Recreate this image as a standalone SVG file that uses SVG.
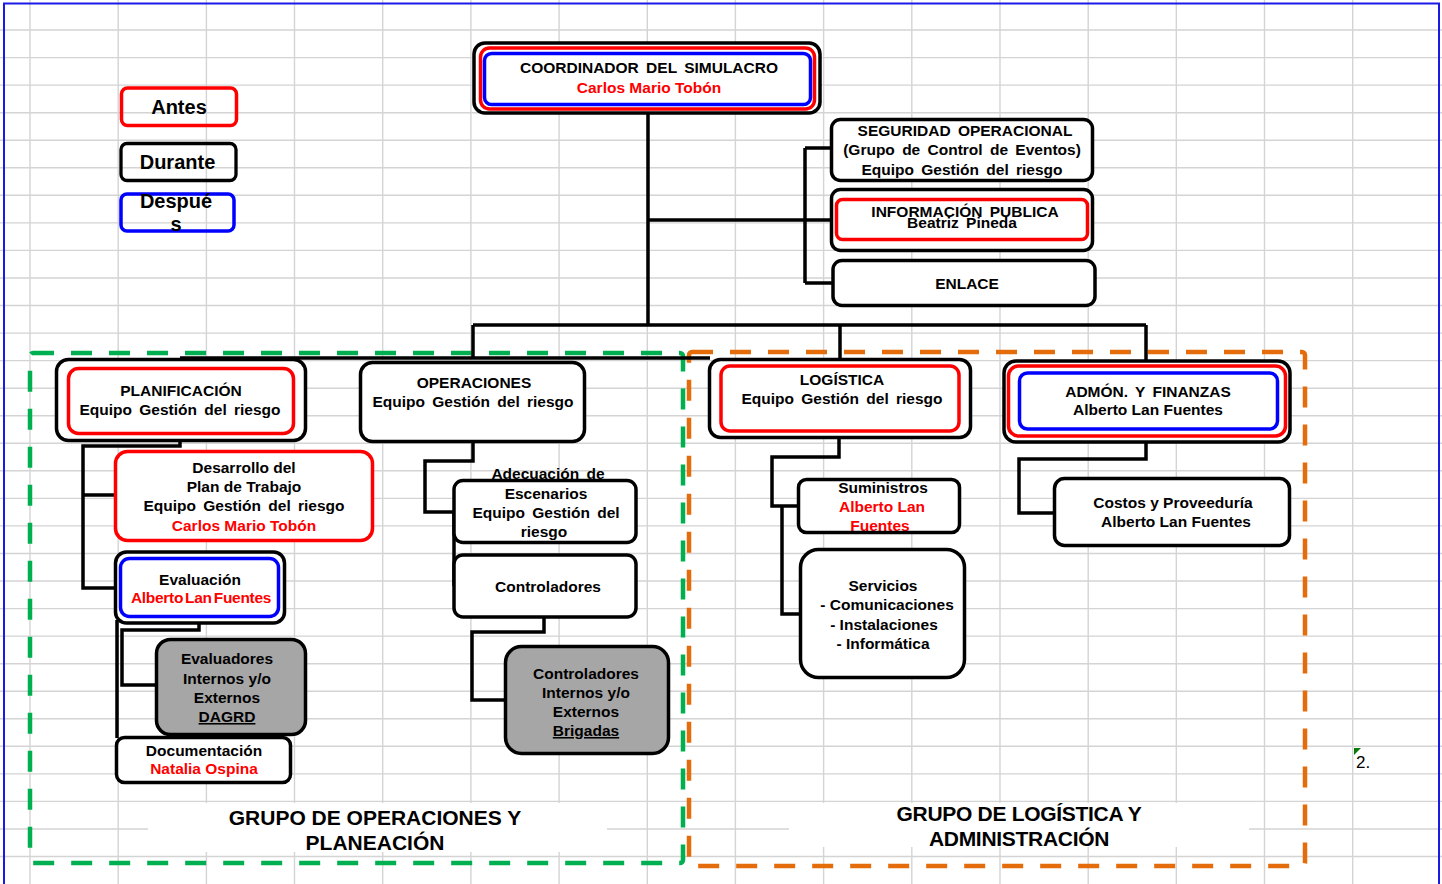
<svg xmlns="http://www.w3.org/2000/svg" width="1442" height="884" viewBox="0 0 1442 884">
<defs>
<style>
.grid{stroke:#d4d4d4;stroke-width:1.4}
.box{fill:#fff;stroke:#000;stroke-width:3.5}
.rd{fill:none;stroke:#ff0000;stroke-width:3.5}
.bl{fill:none;stroke:#0000ff;stroke-width:3.5}
.gr{fill:#a6a6a6;stroke:#000;stroke-width:3.5}
.conn{fill:none;stroke:#000;stroke-width:3.5;stroke-linejoin:miter}
.t{font-family:"Liberation Sans",Arial,sans-serif;font-weight:bold;font-size:15.5px;text-anchor:middle;fill:#000}
.ws{word-spacing:3px}
.r{fill:#ff0000}
.lg{font-size:20px}
.big{font-size:21px}
.u{text-decoration:underline}
</style>
</defs>
<rect width="1442" height="884" fill="#fff"/>
<g id="grid">
<path class="grid" d="M30 0V884M118.2 0V884M206.4 0V884M294.5 0V884M382.7 0V884M470.9 0V884M559.1 0V884M647.3 0V884M735.4 0V884M823.6 0V884M911.8 0V884M1000 0V884M1088.2 0V884M1176.3 0V884M1264.5 0V884M1352.7 0V884"/>
<path class="grid" d="M0 30H1442M0 57.6H1442M0 85.1H1442M0 112.7H1442M0 140.2H1442M0 167.8H1442M0 195.3H1442M0 222.9H1442M0 250.4H1442M0 278H1442M0 305.5H1442M0 333.1H1442M0 360.6H1442M0 388.2H1442M0 415.7H1442M0 443.3H1442M0 470.8H1442M0 498.4H1442M0 525.9H1442M0 553.5H1442M0 581H1442M0 608.6H1442M0 636.1H1442M0 663.7H1442M0 691.2H1442M0 718.8H1442M0 746.3H1442M0 773.9H1442M0 801.4H1442M0 829H1442M0 856.5H1442"/>
</g>
<path d="M4 884V3.5H1439V884" fill="none" stroke="#1a1ae6" stroke-width="2"/>
<g id="group-frames">
<rect x="148" y="803" width="459" height="49" fill="#fff"/>
<rect x="789" y="803" width="460" height="44" fill="#fff"/>
<rect id="grupo-operaciones-frame" x="30" y="353" width="653" height="510" rx="3" fill="none" stroke="#00b050" stroke-width="4.5" stroke-dasharray="21 17"/>
<rect id="grupo-logistica-frame" x="689" y="352" width="616" height="514" rx="3" fill="none" stroke="#e46c0a" stroke-width="4.5" stroke-dasharray="21 17"/>
</g>
<g id="legend">
<g id="legend-antes"><rect x="121.5" y="88" width="115" height="37.5" rx="6" class="rd" stroke-width="3.3"/><text class="t lg" x="179" y="113.5">Antes</text></g>
<g id="legend-durante"><rect x="121" y="143.5" width="115" height="37" rx="6" fill="none" stroke="#000" stroke-width="3.3"/><text class="t lg" x="177.5" y="168.5">Durante</text></g>
<g id="legend-despues"><rect x="121" y="194" width="113" height="37" rx="6" class="bl" stroke-width="3.3"/><text class="t lg" x="176" y="207.5">Despué</text><text class="t lg" x="176" y="231">s</text></g>
</g>
<g id="connectors">
<path class="conn" d="M648 114V325M473 325H1146M473 325V359M840 325V359M1146 325V361M648 220H836M805 148V283M805 148H831M805 283H833M180 358H710"/>
<path class="conn" d="M180 441V446H83V588H115M83 495H116"/>
<path class="conn" d="M199 623V630H122V685H157M117 620V738"/>
<path class="conn" d="M473 442V461H425V512H454M454 512V586"/>
<path class="conn" d="M544 617V632H472V700H506"/>
<path class="conn" d="M839 437V457H772V506H799M782 506V614H801"/>
<path class="conn" d="M1146 442V459H1019V513H1055"/>
</g>
<g id="coordinador">
<rect class="box" x="474" y="43" width="346" height="70" rx="11"/>
<rect class="rd" x="480.5" y="48" width="334" height="61" rx="9"/>
<rect class="bl" x="484.5" y="53.5" width="326" height="51" rx="7"/>
<text class="t ws" x="649" y="73" font-size="16">COORDINADOR DEL SIMULACRO</text>
<text class="t r" x="649" y="93" font-size="16">Carlos Mario Tobón</text>
</g>
<g id="seguridad">
<rect class="box" x="831.5" y="119.5" width="261" height="61" rx="9"/>
<text class="t ws" x="965" y="136">SEGURIDAD OPERACIONAL</text>
<text class="t ws" x="962" y="155">(Grupo de Control de Eventos)</text>
<text class="t ws" x="962" y="174.5">Equipo Gestión del riesgo</text>
</g>
<g id="informacion">
<rect class="box" x="831.5" y="189.5" width="261" height="61" rx="9"/>
<rect class="rd" x="836.5" y="199.5" width="251" height="40" rx="6"/>
<text class="t ws" x="965" y="216.5">INFORMACIÓN PUBLICA</text>
<text class="t ws" x="962" y="227.5">Beatriz Pineda</text>
</g>
<g id="enlace">
<rect class="box" x="833" y="260.5" width="262" height="45" rx="9"/>
<text class="t" x="967" y="289">ENLACE</text>
</g>
<g id="planificacion">
<rect class="box" x="56.5" y="359.5" width="249" height="81" rx="12"/>
<rect class="rd" x="68.5" y="368.5" width="225" height="65" rx="10"/>
<text class="t" x="181" y="396">PLANIFICACIÓN</text>
<text class="t ws" x="180" y="414.5">Equipo Gestión del riesgo</text>
</g>
<g id="desarrollo">
<rect x="115.5" y="451.5" width="257" height="89" rx="12" fill="#fff" stroke="#ff0000" stroke-width="3.5"/>
<text class="t" x="244" y="473">Desarrollo del</text>
<text class="t" x="244" y="492">Plan de Trabajo</text>
<text class="t ws" x="244" y="511">Equipo Gestión del riesgo</text>
<text class="t r" x="244" y="531">Carlos Mario Tobón</text>
</g>
<g id="evaluacion">
<rect class="box" x="115.5" y="552" width="169" height="71" rx="11"/>
<rect class="bl" x="120.5" y="558.5" width="158" height="58" rx="9"/>
<text class="t" x="200" y="585">Evaluación</text>
<text class="t r" x="201" y="603" style="letter-spacing:-0.3px;word-spacing:-2px">Alberto Lan Fuentes</text>
</g>
<g id="evaluadores">
<rect class="gr" x="156.5" y="639.5" width="149" height="95" rx="14"/>
<text class="t" x="227" y="664">Evaluadores</text>
<text class="t" x="227" y="683.5">Internos y/o</text>
<text class="t" x="227" y="702.5">Externos</text>
<text class="t u" x="227" y="722">DAGRD</text>
</g>
<g id="documentacion">
<rect class="box" x="116.5" y="737.5" width="174" height="45" rx="8"/>
<text class="t" x="204" y="755.5">Documentación</text>
<text class="t r" x="204" y="773.5">Natalia Ospina</text>
</g>
<g id="operaciones">
<rect class="box" x="360.5" y="362.5" width="224" height="79" rx="12"/>
<text class="t" x="474" y="387.5">OPERACIONES</text>
<text class="t ws" x="473" y="407">Equipo Gestión del riesgo</text>
</g>
<g id="adecuacion">
<rect class="box" x="454" y="480.5" width="182" height="62" rx="9"/>
<text class="t ws" x="548" y="478.5">Adecuación de</text>
<text class="t" x="546" y="498.5">Escenarios</text>
<text class="t ws" x="546" y="518">Equipo Gestión del</text>
<text class="t" x="544" y="537">riesgo</text>
</g>
<g id="controladores">
<rect class="box" x="454" y="555" width="182" height="62" rx="9"/>
<text class="t" x="548" y="592">Controladores</text>
</g>
<g id="controladores-externos">
<rect class="gr" x="505.5" y="646.5" width="163" height="107" rx="16"/>
<text class="t" x="586" y="678.5">Controladores</text>
<text class="t" x="586" y="697.5">Internos y/o</text>
<text class="t" x="586" y="717">Externos</text>
<text class="t u" x="586" y="736">Brigadas</text>
</g>
<g id="logistica">
<rect class="box" x="709.5" y="359.5" width="261" height="78" rx="11"/>
<rect class="rd" x="721" y="366" width="238" height="65" rx="9"/>
<text class="t" x="842" y="384.5">LOGÍSTICA</text>
<text class="t ws" x="842" y="404">Equipo Gestión del riesgo</text>
</g>
<g id="suministros">
<rect x="798.5" y="479.5" width="161" height="53" rx="8" fill="#fff"/>
<text class="t" x="883" y="493">Suministros</text>
<text class="t r" x="882" y="512">Alberto Lan</text>
<text class="t r" x="880" y="531">Fuentes</text>
<rect x="798.5" y="479.5" width="161" height="53" rx="8" fill="none" stroke="#000" stroke-width="3.5"/>
</g>
<g id="servicios">
<rect class="box" x="800.5" y="549.5" width="164" height="128" rx="18"/>
<text class="t" x="883" y="591">Servicios</text>
<text class="t" x="887" y="610">- Comunicaciones</text>
<text class="t" x="884" y="629.5">- Instalaciones</text>
<text class="t" x="883" y="648.5">- Informática</text>
</g>
<g id="admon">
<rect class="box" x="1004" y="361" width="286" height="81" rx="12"/>
<rect class="rd" x="1008.5" y="366" width="277" height="70" rx="10"/>
<rect class="bl" x="1019.5" y="373" width="258" height="56" rx="8"/>
<text class="t ws" x="1148" y="397">ADMÓN. Y FINANZAS</text>
<text class="t" x="1148" y="415">Alberto Lan Fuentes</text>
</g>
<g id="costos">
<rect class="box" x="1054.5" y="478.5" width="235" height="67" rx="10"/>
<text class="t" x="1173" y="507.5">Costos y Proveeduría</text>
<text class="t" x="1176" y="527">Alberto Lan Fuentes</text>
</g>
<g id="group-labels">
<text class="t big" x="375" y="825">GRUPO DE OPERACIONES Y</text>
<text class="t big" x="375" y="850">PLANEACIÓN</text>
<text class="t big" x="1019" y="821" style="letter-spacing:-0.3px">GRUPO DE LOGÍSTICA Y</text>
<text class="t big" x="1019" y="846" style="letter-spacing:-0.3px">ADMINISTRACIÓN</text>
</g>
<g id="note">
<polygon points="1354,748 1361,748 1354,755" fill="#0a7a0a"/>
<text x="1356" y="768" font-family="Liberation Sans, Arial, sans-serif" font-size="17" fill="#000">2.</text>
</g>
</svg>
